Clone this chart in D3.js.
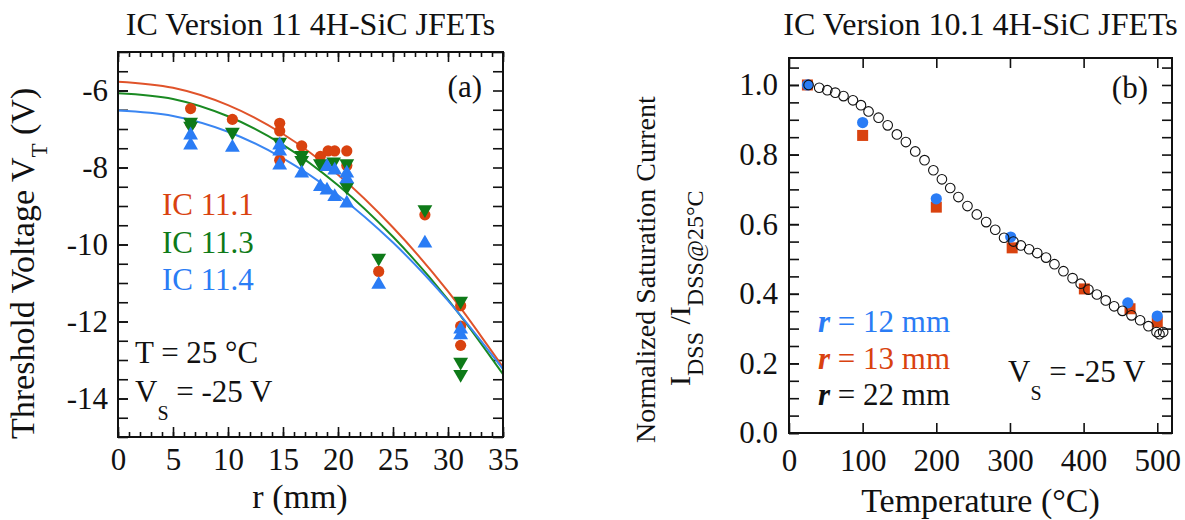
<!DOCTYPE html>
<html><head><meta charset="utf-8">
<script src="https://cdn.jsdelivr.net/npm/d3@7"></script>
<style>
body{margin:0;background:#fff}
svg text{font-family:"Liberation Serif","Times New Roman",Times,serif !important;fill:#111}
</style>
</head><body>
<svg id="chart" width="1185" height="520" font-family="Liberation Serif, Times New Roman, serif"></svg>
<script>
// ---------- Panel (a) data ----------
const fitR = [0, 5, 10, 15, 20, 25, 30, 35];
const fit111 = [-5.77, -5.93, -6.38, -7.13, -8.19, -9.56, -11.22, -13.19];
const fit113 = [-6.07, -6.22, -6.67, -7.41, -8.46, -9.80, -11.43, -13.37];
const fit114 = [-6.52, -6.66, -7.07, -7.76, -8.72, -9.95, -11.46, -13.24];

const ic111R = [6.6, 6.6, 10.4, 14.7, 14.7, 14.7, 16.7, 18.4, 19.1, 19.7, 20.8, 20.8, 23.7, 27.9, 31.15, 31.15, 31.15];
const ic111V = [-6.47, -6.86, -6.75, -6.85, -7.05, -7.81, -7.44, -7.71, -7.57, -7.57, -7.57, -7.95, -10.70, -9.23, -11.59, -12.12, -12.62];
const ic113R = [6.6, 6.6, 10.4, 14.7, 16.7, 16.7, 18.4, 19.6, 20.8, 20.8, 23.7, 27.9, 31.15, 31.15, 31.15];
const ic113V = [-6.82, -6.92, -7.08, -7.34, -7.68, -7.81, -7.9, -7.85, -7.9, -8.5, -10.35, -9.09, -11.47, -13.05, -13.37];
const ic114R = [6.6, 6.6, 10.4, 14.7, 14.7, 14.7, 16.7, 18.4, 19.0, 19.7, 20.8, 19.0, 19.7, 20.8, 20.8, 23.7, 27.9, 31.15, 31.15];
const ic114V = [-7.16, -7.42, -7.48, -7.42, -7.58, -7.94, -8.15, -8.5, -8.59, -8.76, -8.93, -7.98, -8.07, -8.15, -8.3, -11.04, -9.97, -12.2, -12.35];

const aXTicks = [0, 5, 10, 15, 20, 25, 30, 35];
const aYTicks = [-14, -12, -10, -8, -6];

// ---------- Panel (b) data ----------
const tBlue = [25, 100, 200, 301, 460, 500];
const vBlue = [1.0, 0.892, 0.673, 0.563, 0.374, 0.336];
const tRed = [25, 100, 200, 303, 401, 463, 500];
const vRed = [1.0, 0.855, 0.649, 0.532, 0.414, 0.357, 0.319];
const t22 = [26.6, 41, 52, 62.8, 74, 86.8, 97.7, 108, 121.6, 134, 146.5, 158.7, 171.4, 184, 196, 207.6, 218.9, 230, 242.3, 255, 267.7, 280, 292, 304.7, 314.8, 326, 337, 349, 360.4, 372.6, 385, 396, 406.5, 418, 430, 441.4, 452.7, 465, 476.7, 488, 499, 503, 508];
const v22 = [1.0, 0.992, 0.985, 0.978, 0.968, 0.956, 0.942, 0.924, 0.906, 0.884, 0.858, 0.836, 0.809, 0.784, 0.755, 0.729, 0.704, 0.678, 0.652, 0.628, 0.606, 0.584, 0.561, 0.55, 0.539, 0.528, 0.517, 0.504, 0.485, 0.465, 0.445, 0.429, 0.412, 0.398, 0.381, 0.364, 0.351, 0.338, 0.324, 0.307, 0.29, 0.284, 0.29];

const bXTicks = [0, 100, 200, 300, 400, 500];
const bYTicks = [0.0, 0.2, 0.4, 0.6, 0.8, 1.0];

const RED = "#d9420f", GREEN = "#0e7a18", BLUE = "#2a7cf5";
const RED_LINE = "#e0532a", GREEN_LINE = "#1a8a22", BLUE_LINE = "#3a86f2";
const SERIF = "Liberation Serif, Times New Roman, serif";

const svg = d3.select("#chart");
const FS = 31;
const TITLE_FS = 34;

function frame(g, w, h) {
  g.append("rect").attr("x", 0).attr("y", 0).attr("width", w).attr("height", h)
    .attr("fill", "none").attr("stroke", "#111").attr("stroke-width", 2);
}
function styleAxis(sel, showText) {
  sel.attr("font-family", SERIF);
  sel.select(".domain").remove();
  sel.selectAll("line").attr("stroke", "#111").attr("stroke-width", 1.6);
  sel.selectAll("text").style("font-size", FS + "px").style("font-family", SERIF).attr("fill", "#111");
  if (!showText) sel.selectAll("text").remove();
}
const hyphenInt = d => String(d);
const oneDec = d => d.toFixed(1);

// ================= Panel (a) =================
{
  const L = 118, T = 52, W = 385, H = 385;
  const g = svg.append("g").attr("transform", `translate(${L},${T})`);
  const x = d3.scaleLinear().domain([0, 35]).range([0, W]);
  const y = d3.scaleLinear().domain([-15, -5]).range([H, 0]);

  const minorX = d3.range(0, 36, 1);
  const minorY = d3.range(-15, -4.9, 0.5);

  g.append("g").attr("transform", `translate(0,${H})`).call(d3.axisBottom(x).tickValues(minorX).tickFormat("").tickSize(-5)).call(s => styleAxis(s, false));
  g.append("g").call(d3.axisTop(x).tickValues(minorX).tickFormat("").tickSize(-5)).call(s => styleAxis(s, false));
  g.append("g").attr("transform", `translate(0,${H})`).call(d3.axisBottom(x).tickValues(aXTicks).tickFormat(hyphenInt).tickSize(-10).tickPadding(11)).call(s => styleAxis(s, true));
  g.append("g").call(d3.axisTop(x).tickValues(aXTicks).tickFormat("").tickSize(-10)).call(s => styleAxis(s, false));
  g.append("g").call(d3.axisLeft(y).tickValues(minorY).tickFormat("").tickSize(-10)).call(s => styleAxis(s, false));
  g.append("g").attr("transform", `translate(${W},0)`).call(d3.axisRight(y).tickValues(minorY).tickFormat("").tickSize(-10)).call(s => styleAxis(s, false));
  g.append("g").call(d3.axisLeft(y).tickValues(aYTicks).tickFormat(hyphenInt).tickSize(-10).tickPadding(10)).call(s => styleAxis(s, true));

  g.append("clipPath").attr("id", "clipA").append("rect").attr("width", W).attr("height", H);
  const line = d3.line().x((d, i) => x(fitR[i])).y(d => y(d)).curve(d3.curveCatmullRom);
  const lg = g.append("g").attr("clip-path", "url(#clipA)");
  [[fit111, RED_LINE], [fit113, GREEN_LINE], [fit114, BLUE_LINE]].forEach(([arr, c]) => {
    lg.append("path").datum(arr).attr("d", line).attr("fill", "none").attr("stroke", c).attr("stroke-width", 2);
  });

  g.append("g").selectAll("circle").data(ic111R).join("circle")
    .attr("cx", d => x(d)).attr("cy", (d, i) => y(ic111V[i])).attr("r", 5.6).attr("fill", RED);
  const tri = d3.symbol().type(d3.symbolTriangle).size(95);
  g.append("g").selectAll("path").data(ic113R).join("path")
    .attr("d", tri).attr("transform", (d, i) => `translate(${x(d)},${y(ic113V[i])}) rotate(180)`).attr("fill", GREEN);
  g.append("g").selectAll("path").data(ic114R).join("path")
    .attr("d", tri).attr("transform", (d, i) => `translate(${x(d)},${y(ic114V[i])})`).attr("fill", BLUE);

  frame(g, W, H);

  g.append("text").attr("x", W - 21).attr("y", 45).attr("text-anchor", "end").style("font-size", FS + "px").text("(a)");
  const legA = [["IC 11.1", RED], ["IC 11.3", GREEN], ["IC 11.4", BLUE]];
  legA.forEach(([t, c], i) => {
    g.append("text").attr("x", 44).attr("y", 163 + i * 37.5).style("font-size", FS + "px").style("fill", c).text(t);
  });
  g.append("text").attr("x", 17).attr("y", 311).style("font-size", FS + "px").text("T = 25 °C");
  const vs = g.append("text").attr("x", 17).attr("y", 350).style("font-size", FS + "px");
  vs.append("tspan").text("V");
  vs.append("tspan").attr("dy", 18).style("font-size", "20px").text("S");
  vs.append("tspan").attr("dy", -18).text(" = -25 V");

  svg.append("text").attr("x", L + W / 2).attr("y", 35).attr("text-anchor", "middle").style("font-size", "32px").text("IC Version 11 4H-SiC JFETs");
  svg.append("text").attr("x", 300).attr("y", 508).attr("text-anchor", "middle").style("font-size", TITLE_FS + "px").text("r (mm)");
  const yt = svg.append("text").attr("transform", "translate(34,439) rotate(-90)").attr("text-anchor", "start").style("font-size", TITLE_FS + "px");
  yt.append("tspan").text("Threshold Voltage V");
  yt.append("tspan").attr("dy", 13).style("font-size", "23px").text("T");
  yt.append("tspan").attr("dy", -13).text(" (V)");
}

// ================= Panel (b) =================
{
  const L = 789, T = 58, W = 383, H = 375;
  const g = svg.append("g").attr("transform", `translate(${L},${T})`);
  const x = d3.scaleLinear().domain([0, 520]).range([0, W]);
  const y = d3.scaleLinear().domain([0, 1.0775]).range([H, 0]);

  const minorY = d3.range(0, 1.0751, 0.05);

  g.append("g").attr("transform", `translate(0,${H})`).call(d3.axisBottom(x).tickValues(bXTicks).tickFormat(hyphenInt).tickSize(-10).tickPadding(16)).call(s => styleAxis(s, true));
  g.append("g").call(d3.axisTop(x).tickValues(bXTicks).tickFormat("").tickSize(-10)).call(s => styleAxis(s, false));
  g.append("g").call(d3.axisLeft(y).tickValues(minorY).tickFormat("").tickSize(-10)).call(s => styleAxis(s, false));
  g.append("g").attr("transform", `translate(${W},0)`).call(d3.axisRight(y).tickValues(minorY).tickFormat("").tickSize(-10)).call(s => styleAxis(s, false));
  g.append("g").call(d3.axisLeft(y).tickValues(bYTicks).tickFormat(oneDec).tickSize(-10).tickPadding(11)).call(s => styleAxis(s, true));

  const sq = 11;
  g.append("g").selectAll("rect").data(tRed).join("rect")
    .attr("x", d => x(d) - sq / 2).attr("y", (d, i) => y(vRed[i]) - sq / 2).attr("width", sq).attr("height", sq).attr("fill", RED);
  g.append("g").selectAll("circle").data(tBlue).join("circle")
    .attr("cx", d => x(d)).attr("cy", (d, i) => y(vBlue[i])).attr("r", 5.6).attr("fill", BLUE);
  g.append("g").selectAll("circle").data(t22).join("circle")
    .attr("cx", d => x(d)).attr("cy", (d, i) => y(v22[i])).attr("r", 4.8)
    .attr("fill", "none").attr("stroke", "#111").attr("stroke-width", 1.1);

  frame(g, W, H);

  g.append("text").attr("x", W - 24).attr("y", 40).attr("text-anchor", "end").style("font-size", FS + "px").text("(b)");
  const legB = [["12", BLUE], ["13", RED], ["22", "#111"]];
  legB.forEach(([t, c], i) => {
    const tx = g.append("text").attr("x", 29).attr("y", 274 + i * 36.5).style("font-size", FS + "px").style("fill", c);
    tx.append("tspan").style("font-weight", "bold").style("font-style", "italic").style("fill", c).text("r");
    tx.append("tspan").style("fill", c).text(` = ${t} mm`);
  });
  const vs = g.append("text").attr("x", 219).attr("y", 324).style("font-size", FS + "px");
  vs.append("tspan").text("V");
  vs.append("tspan").attr("dy", 18).style("font-size", "20px").text("S");
  vs.append("tspan").attr("dy", -18).text(" = -25 V");

  svg.append("text").attr("x", L + W / 2).attr("y", 35).attr("text-anchor", "middle").style("font-size", "32px").text("IC Version 10.1 4H-SiC JFETs");
  svg.append("text").attr("x", L + W / 2).attr("y", 512).attr("text-anchor", "middle").style("font-size", TITLE_FS + "px").text("Temperature (°C)");
  svg.append("text").attr("transform", "translate(655,443) rotate(-90)").attr("text-anchor", "start").style("font-size", "28px").text("Normalized Saturation Current");
  const y2 = svg.append("text").attr("transform", "translate(690,386) rotate(-90)").attr("text-anchor", "start").style("font-size", "30px");
  y2.append("tspan").text("I");
  y2.append("tspan").attr("dy", 13).style("font-size", "24px").text("DSS");
  y2.append("tspan").attr("dy", -13).text(" /I");
  y2.append("tspan").attr("dy", 13).style("font-size", "24px").text("DSS@25°C");
}
</script>
</body></html>
